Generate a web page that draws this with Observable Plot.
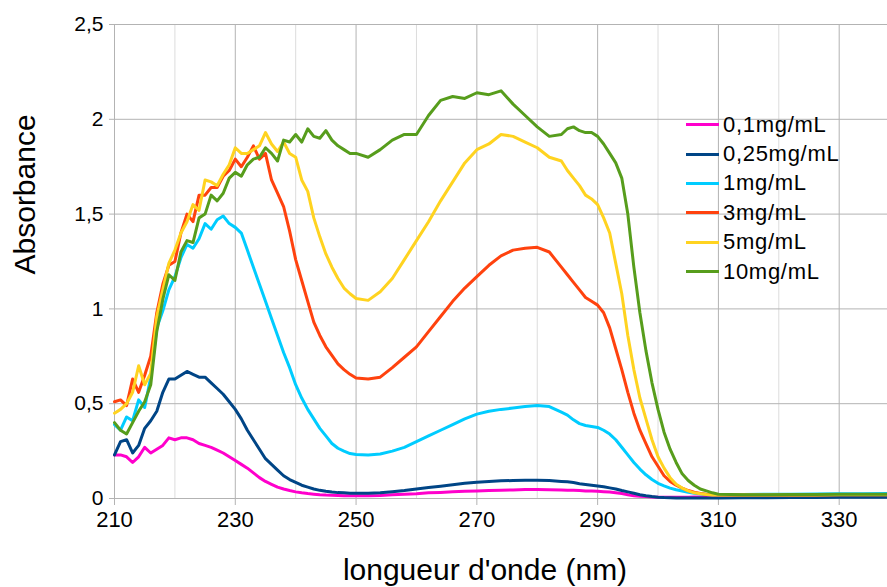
<!DOCTYPE html>
<html><head><meta charset="utf-8">
<script src="https://cdn.jsdelivr.net/npm/d3@7"></script>
<script src="https://cdn.jsdelivr.net/npm/@observablehq/plot@0.6"></script>
<style>
html,body{margin:0;padding:0;background:#fff;}
#wrap{position:relative;width:887px;height:587px;font-family:"Liberation Sans",Arial,sans-serif;}
#legend{position:absolute;left:686px;top:110px;}
.item{display:flex;align-items:center;height:29.4px;font-size:22px;letter-spacing:0.7px;color:#000;}
.sw{width:33px;height:3px;margin-right:4px;}
</style></head><body><div id="wrap"></div>
<script>
// Wavelengths (nm)
const wavelengths = [
  210,211,212,213,214,215,216,217,218,219,220,221,222,223,224,225,226,227,228,229,230,
  231,232,233,234,235,236,237,238,239,240,241,242,243,244,245,246,247,248,249,250,
  252,254,256,258,260,262,264,266,268,270,272,274,276,278,280,282,284,
  285,286,287,288,289,290,291,292,293,294,295,296,297,298,299,300,301,302,303,304,305,306,307,308,309,310,
  314,318,322,326,330,334,338
];
const seriesNames = ["0,1mg/mL", "0,25mg/mL", "1mg/mL", "3mg/mL", "5mg/mL", "10mg/mL"];
const seriesColors = ["#ff00cc", "#004586", "#00ccff", "#ff420e", "#ffd320", "#579d1c"];

const abs01 = [
  .23,.23,.22,.19,.22,.27,.24,.26,.28,.32,.31,.32,.32,.31,.29,.28,.27,.255,.24,.22,.2,
  .18,.16,.135,.11,.09,.075,.06,.05,.042,.035,.03,.026,.023,.02,.018,.017,.016,.015,.015,.015,
  .015,.016,.02,.022,.025,.03,.032,.035,.038,.04,.042,.044,.045,.047,.047,.046,.045,
  .044,.043,.042,.04,.04,.038,.036,.034,.03,.026,.02,.015,.012,.01,.008,.007,.006,.006,.006,.007,.007,.008,.008,.009,.01,.01,
  .012,.013,.014,.015,.016,.017,.018
];
const abs025 = [
  .23,.3,.31,.24,.28,.37,.41,.46,.56,.63,.63,.65,.67,.655,.64,.64,.61,.58,.55,.51,.47,
  .42,.36,.31,.26,.21,.18,.15,.12,.1,.085,.07,.06,.05,.043,.038,.034,.031,.03,.028,.028,
  .028,.03,.036,.042,.05,.058,.065,.072,.08,.086,.09,.093,.095,.096,.096,.095,.09,
  .088,.084,.078,.074,.07,.066,.062,.056,.05,.042,.035,.028,.02,.014,.01,.007,.005,.004,.003,.003,.003,.003,.003,.003,.003,.003,
  .004,.004,.005,.005,.006,.006,.007
];
const abs1 = [
  .39,.36,.43,.41,.52,.48,.64,.9,.99,1.1,1.17,1.27,1.34,1.32,1.37,1.45,1.42,1.47,1.49,1.45,1.43,
  1.4,1.31,1.22,1.13,1.04,.95,.86,.77,.69,.6,.53,.47,.42,.37,.33,.29,.265,.25,.237,.232,
  .23,.235,.25,.27,.3,.33,.36,.39,.42,.445,.46,.47,.477,.485,.49,.485,.455,
  .44,.415,.395,.385,.38,.375,.36,.34,.31,.27,.23,.19,.155,.125,.1,.08,.067,.055,.046,.04,.033,.028,.024,.021,.02,.02,
  .021,.022,.023,.024,.025,.025,.026
];
const abs3 = [
  .51,.52,.49,.63,.56,.65,.75,.98,1.13,1.23,1.25,1.4,1.5,1.46,1.6,1.6,1.64,1.64,1.7,1.73,1.79,
  1.75,1.8,1.86,1.79,1.82,1.68,1.61,1.54,1.41,1.26,1.15,1.04,.93,.86,.8,.755,.71,.68,.655,.635,
  .63,.64,.69,.745,.8,.88,.96,1.04,1.11,1.17,1.23,1.28,1.31,1.32,1.325,1.3,1.22,
  1.18,1.14,1.1,1.06,1.04,1.02,.98,.9,.79,.68,.56,.45,.36,.29,.22,.17,.12,.09,.07,.055,.042,.033,.027,.022,.02,.018,
  .018,.018,.019,.019,.02,.02,.02
];
const abs5 = [
  .45,.47,.5,.56,.7,.6,.66,.96,1.1,1.24,1.31,1.4,1.46,1.55,1.52,1.68,1.67,1.65,1.71,1.76,1.85,
  1.82,1.82,1.84,1.86,1.93,1.87,1.83,1.88,1.82,1.8,1.68,1.62,1.48,1.38,1.29,1.22,1.16,1.11,1.08,1.055,
  1.045,1.09,1.16,1.26,1.36,1.46,1.57,1.67,1.77,1.84,1.87,1.92,1.91,1.88,1.85,1.8,1.78,
  1.73,1.69,1.65,1.6,1.58,1.55,1.48,1.4,1.24,1.08,.86,.68,.53,.42,.31,.22,.16,.11,.075,.055,.04,.03,.025,.021,.019,.018,
  .018,.018,.019,.019,.02,.02,.02
];
const abs10 = [
  .4,.36,.34,.4,.46,.51,.6,.88,1.05,1.18,1.15,1.3,1.36,1.35,1.48,1.5,1.6,1.57,1.61,1.69,1.72,
  1.7,1.76,1.79,1.8,1.85,1.82,1.78,1.89,1.88,1.92,1.88,1.95,1.91,1.9,1.94,1.89,1.86,1.84,1.82,1.82,
  1.8,1.84,1.89,1.92,1.92,2.02,2.1,2.12,2.11,2.14,2.13,2.15,2.08,2.02,1.96,1.91,1.92,
  1.95,1.96,1.94,1.93,1.93,1.91,1.87,1.82,1.77,1.69,1.5,1.22,.98,.78,.61,.47,.35,.26,.19,.13,.095,.07,.05,.04,.03,.022,
  .02,.02,.021,.021,.022,.022,.022
];

const xMajorTicks = [210, 230, 250, 270, 290, 310, 330];
const xMinorTicks = [220, 240, 260, 280, 300, 320];
const yTicks = [0, 0.5, 1, 1.5, 2, 2.5];
const xTitle = "longueur d'onde (nm)";
const yTitle = "Absorbance";

const allSeries = [abs01, abs025, abs1, abs3, abs5, abs10];
const rows = [];
allSeries.forEach((vals, si) => vals.forEach((v, i) => rows.push({wl: wavelengths[i], a: v, name: seriesNames[si]})));

const fmt = d => String(d).replace(".", ",");
const FONT = "'Liberation Sans', Arial, sans-serif";

const chart = Plot.plot({
  width: 887, height: 587,
  marginTop: 24, marginBottom: 89, marginLeft: 114, marginRight: 0,
  style: {fontFamily: FONT, background: "#fff", color: "#000", overflow: "visible"},
  x: {domain: [210, 338]},
  y: {domain: [0, 2.5]},
  color: {domain: seriesNames, range: seriesColors},
  marks: [
    Plot.gridX(xMinorTicks, {stroke: "#dcdcdc", strokeOpacity: 1, strokeWidth: 1}),
    Plot.gridX(xMajorTicks, {stroke: "#b3b3b3", strokeOpacity: 1, strokeWidth: 1}),
    Plot.gridY(yTicks, {stroke: "#b3b3b3", strokeOpacity: 1, strokeWidth: 1}),
    Plot.axisX(xMajorTicks, {tickSize: 7, tickPadding: 6, stroke: "#b3b3b3", fill: "#000", fontSize: 22, label: null}),
    Plot.axisY(yTicks, {tickSize: 5, tickPadding: 6, stroke: "#b3b3b3", fill: "#000", fontSize: 21, tickFormat: fmt, label: null}),
    Plot.line(rows, {x: "wl", y: "a", z: "name", stroke: "name", strokeWidth: 3, strokeLinejoin: "round", curve: "linear"}),
    Plot.text([xTitle], {frameAnchor: "bottom", dy: 72, dx: -16, fontSize: 30, fill: "#000", lineAnchor: "middle"}),
    Plot.text([yTitle], {frameAnchor: "left", dx: -89, dy: 13, rotate: -90, fontSize: 30, fill: "#000", lineAnchor: "middle"})
  ]
});

const wrap = document.getElementById("wrap");
wrap.appendChild(chart);

const legend = document.createElement("div");
legend.id = "legend";
seriesNames.forEach((n, i) => {
  const it = document.createElement("div");
  it.className = "item";
  const sw = document.createElement("span");
  sw.className = "sw";
  sw.style.background = seriesColors[i];
  const t = document.createElement("span");
  t.textContent = n;
  it.appendChild(sw); it.appendChild(t);
  legend.appendChild(it);
});
wrap.appendChild(legend);
</script>
</body></html>
